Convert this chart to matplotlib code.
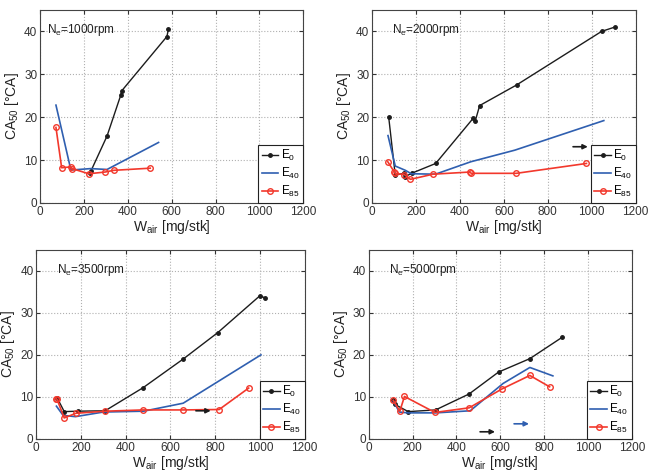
import matplotlib
matplotlib.use('Agg')
import matplotlib.pyplot as plt

plt.rcParams['font.family'] = ['Liberation Sans', 'DejaVu Sans']
plt.rcParams['mathtext.fontset'] = 'custom'
plt.rcParams['mathtext.rm'] = 'Liberation Sans'
plt.rcParams['mathtext.it'] = 'Liberation Sans'

# ---- data (W_air [mg/stk], CA50 [deg CA]) ----
speeds = [1000, 2000, 3500, 5000]

e0_x_1000 = [225, 232, 305, 368, 373, 578, 585]
e0_y_1000 = [7.0, 7.5, 15.6, 25.2, 26.2, 38.8, 40.5]
e40_x_1000 = [72, 140, 150, 230, 305, 540]
e40_y_1000 = [22.8, 7.7, 7.7, 8.0, 7.8, 14.1]
e85_x_1000 = [72, 98, 140, 145, 222, 296, 336, 502]
e85_y_1000 = [17.6, 8.2, 8.4, 8.0, 6.8, 7.2, 7.6, 8.1]

e0_x_2000 = [76, 106, 144, 150, 180, 290, 460, 470, 490, 658, 1045, 1105]
e0_y_2000 = [20.1, 6.5, 6.9, 6.1, 6.9, 9.2, 19.7, 19.1, 22.7, 27.5, 40.0, 41.0]
e40_x_2000 = [73, 106, 152, 179, 289, 450, 650, 1055]
e40_y_2000 = [15.7, 8.6, 7.6, 6.8, 6.7, 9.6, 12.3, 19.2]
e85_x_2000 = [72, 102, 106, 148, 175, 278, 445, 452, 657, 976]
e85_y_2000 = [9.6, 7.2, 6.9, 6.6, 5.5, 6.7, 7.2, 6.9, 6.9, 9.2]

e0_x_3500 = [93, 125, 185, 308, 478, 657, 812, 999, 1022]
e0_y_3500 = [9.8, 6.5, 6.6, 6.7, 12.2, 19.0, 25.3, 34.0, 33.6]
e40_x_3500 = [90, 120, 175, 300, 480, 657, 1005]
e40_y_3500 = [7.8, 5.6, 5.3, 6.4, 6.6, 8.5, 20.0]
e85_x_3500 = [90, 93, 125, 177, 308, 477, 657, 818, 950]
e85_y_3500 = [9.6, 9.4, 5.0, 6.1, 6.6, 6.9, 6.9, 7.0, 12.1]

e0_x_5000 = [112, 120, 180, 305, 458, 592, 735, 883]
e0_y_5000 = [9.2, 8.2, 6.5, 6.9, 10.7, 15.9, 19.1, 24.2]
e40_x_5000 = [112, 140, 180, 305, 463, 613, 735, 840]
e40_y_5000 = [9.0, 6.4, 6.2, 6.2, 6.7, 13.2, 17.0, 15.0]
e85_x_5000 = [112, 142, 163, 302, 458, 608, 735, 825]
e85_y_5000 = [9.2, 6.6, 10.1, 6.3, 7.4, 11.9, 15.1, 12.4]

# small arrows: (x_start, x_end, y, colour key)
arrows_2000 = [(915, 982, 13.1, 'k')]
arrows_3500 = [(714, 780, 6.7, 'k')]
arrows_5000 = [(508, 576, 1.7, 'k'), (663, 731, 3.6, 'b')]

x_ticks = [0, 200, 400, 600, 800, 1000, 1200]
y_ticks = [0, 10, 20, 30, 40]

BLACK = '#1c1c1c'
BLUE = '#2f5fb0'
RED = '#f2382c'
colours = {'k': BLACK, 'b': BLUE}

panels = [
    (1000, e0_x_1000, e0_y_1000, e40_x_1000, e40_y_1000, e85_x_1000, e85_y_1000, []),
    (2000, e0_x_2000, e0_y_2000, e40_x_2000, e40_y_2000, e85_x_2000, e85_y_2000, arrows_2000),
    (3500, e0_x_3500, e0_y_3500, e40_x_3500, e40_y_3500, e85_x_3500, e85_y_3500, arrows_3500),
    (5000, e0_x_5000, e0_y_5000, e40_x_5000, e40_y_5000, e85_x_5000, e85_y_5000, arrows_5000),
]

# axes rectangles in figure fraction (left, bottom, width, height)
rects = [
    (0.062, 0.571, 0.406, 0.408),
    (0.574, 0.571, 0.407, 0.408),
    (0.056, 0.072, 0.414, 0.400),
    (0.569, 0.072, 0.406, 0.400),
]
# x position (axes fraction) of the speed label in each panel
label_x = [0.027, 0.076, 0.077, 0.076]

fig = plt.figure(figsize=(6.48, 4.73), dpi=100)

for rect, lx, (ne, x0, y0, x40, y40, x85, y85, arrows) in zip(rects, label_x, panels):
    ax = fig.add_axes(rect)
    ax.plot(x0, y0, '-', color=BLACK, lw=1.0, marker='.', ms=5, label='E$_0$')
    ax.plot(x40, y40, '-', color=BLUE, lw=1.2, label='E$_{40}$')
    ax.plot(x85, y85, '-', color=RED, lw=1.2, marker='o', ms=4,
            mfc='none', mew=1.0, label='E$_{85}$')

    for xs, xe, ya, c in arrows:
        ax.annotate('', xy=(xe, ya), xytext=(xs, ya),
                    arrowprops=dict(arrowstyle='-|>', color=colours[c], lw=1.2,
                                    mutation_scale=7, shrinkA=0, shrinkB=0))

    ax.set_xlim(0, 1200)
    ax.set_ylim(0, 45)
    ax.set_xticks(x_ticks)
    ax.set_yticks(y_ticks)
    ax.grid(True, linestyle=':', color='#b0b0b0', lw=0.8)
    ax.tick_params(direction='in', top=True, right=True, labelsize=8.5,
                   colors='#333333', length=3, pad=2)
    for s in ax.spines.values():
        s.set_color('#444444')
        s.set_linewidth(0.8)
    ax.set_xlabel('W$_{air}$ [mg/stk]', fontsize=10, labelpad=0, color='#222222')
    ax.set_ylabel('CA$_{50}$ [°CA]', fontsize=10, labelpad=2, color='#222222')
    ax.text(lx, 0.895, 'N$_e$=%drpm' % ne, transform=ax.transAxes,
            fontsize=8.5, color='#222222', va='center')
    leg = ax.legend(loc='lower right', fontsize=8.5, borderaxespad=0,
                    handlelength=1.4, handletextpad=0.2, labelspacing=0.25,
                    fancybox=False, framealpha=1, edgecolor='#222222',
                    borderpad=0.3)
    leg.get_frame().set_linewidth(0.8)

fig.savefig('out.png', dpi=100)
